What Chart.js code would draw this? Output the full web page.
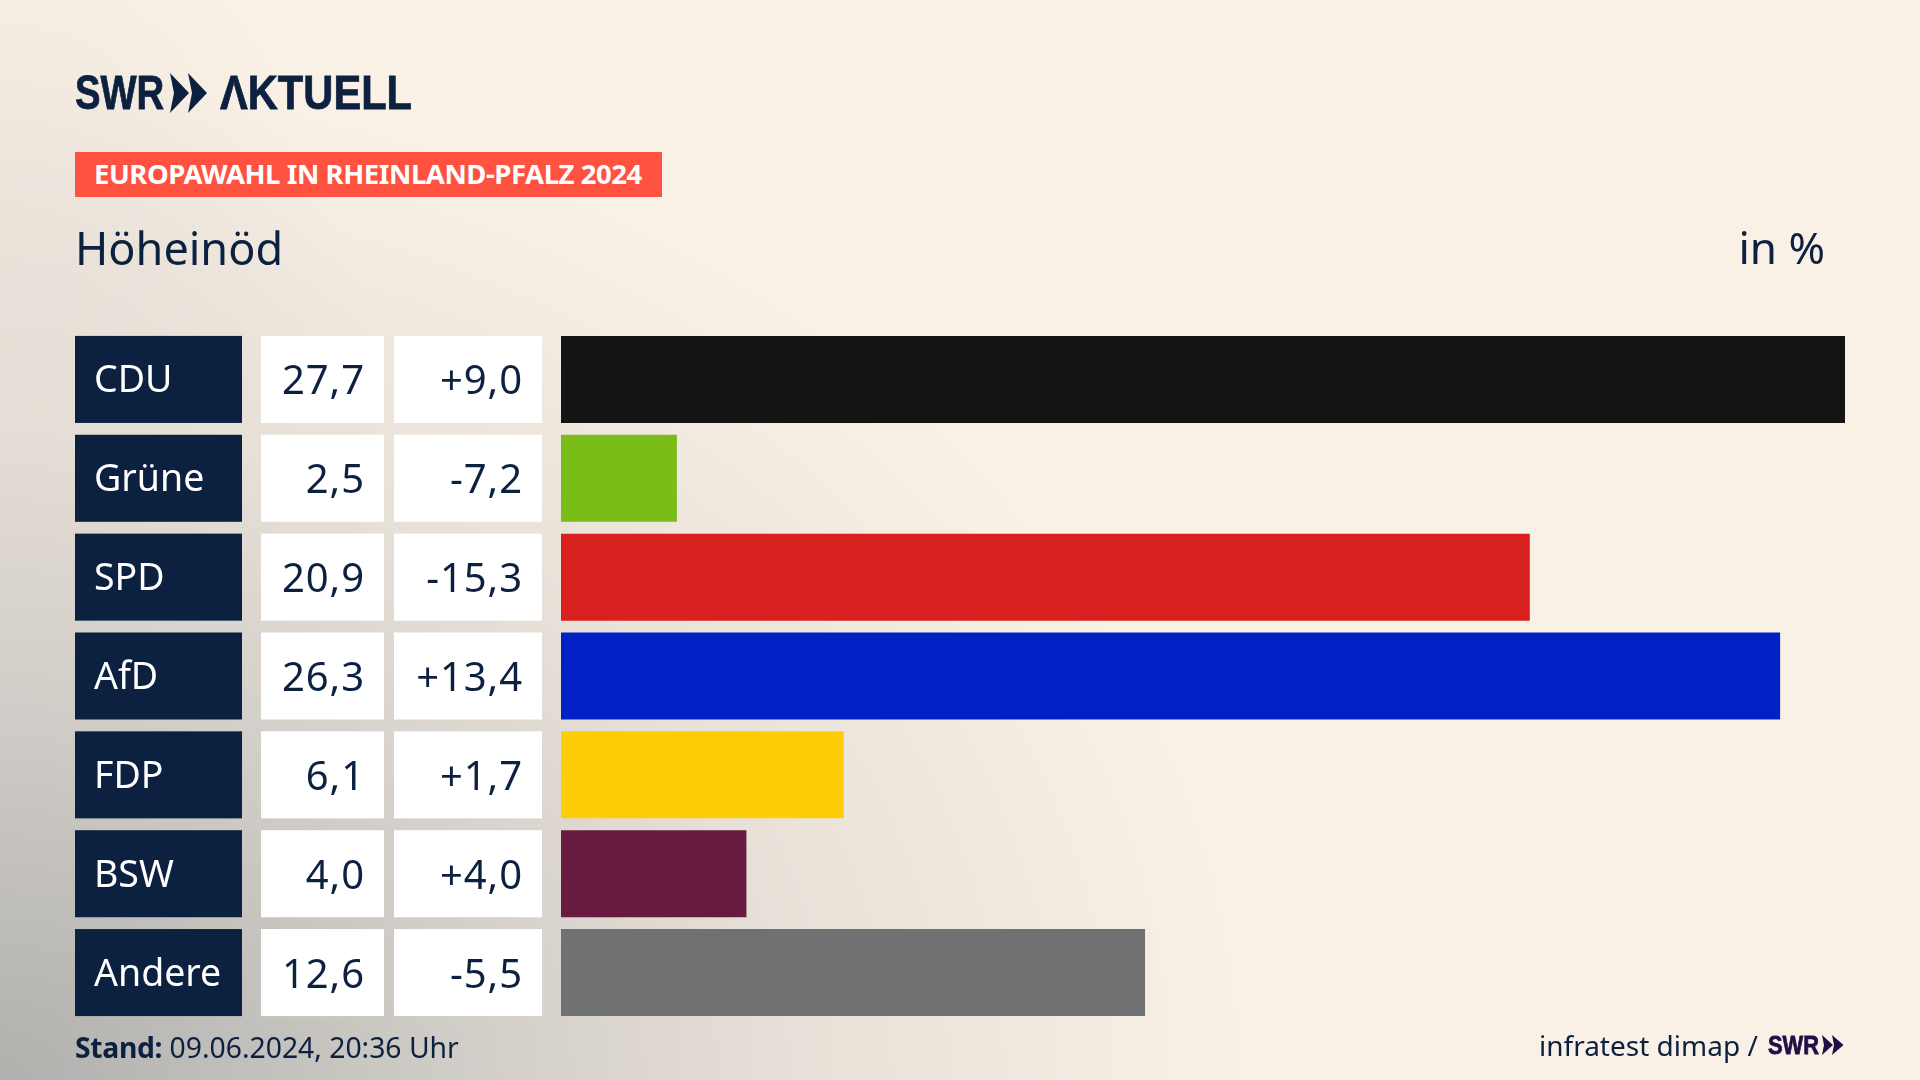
<!DOCTYPE html>
<html lang="de">
<head>
<meta charset="utf-8">
<title>Europawahl in Rheinland-Pfalz 2024 - Höheinöd</title>
<script src="https://cdn.jsdelivr.net/npm/chart.js@4"></script>
<style>
    html, body { margin: 0; width: 1920px; height: 1080px; overflow: hidden; }
    body {
        position: relative;
        font-family: "Noto Sans", sans-serif;
        color: #0c2040;
        background:
            radial-gradient(ellipse 1250px 1000px at 0 100%, #b0b0ae 0, #cfcbc6 35%, rgba(228,221,213,.8) 65%, rgba(250,241,230,0) 100%),
            radial-gradient(ellipse 380px 620px at 0 45%, #e4ded6 0, rgba(250,241,230,0) 100%);
        background-color: #faf1e6;
    }
    .abs { position: absolute; white-space: nowrap; line-height: 1; }
    .narrow { font-family: "Liberation Sans", sans-serif; font-weight: 700; transform-origin: 0 50%; -webkit-text-stroke: .8px currentColor; }
    canvas { position: absolute; left: 0; top: 0; }
    #logo { left: 75px; top: 68px; font-size: 49px; transform: scaleX(.78); }
    #logo2 { left: 220px; top: 68px; font-size: 49px; transform: scaleX(.85); }
    #badge { left: 75px; top: 152px; width: 587px; height: 45px; background: #ff5240; }
    #badgeText { left: 94px; top: 160px; font-size: 27.5px; font-weight: 700; color: #fff; letter-spacing: -.45px; }
    #place { left: 75px; top: 225px; font-size: 45px; }
    #unit { right: 95px; top: 225px; font-size: 44px; }
    #stand { left: 75px; top: 1033px; font-size: 28.3px; }
    #stand b { letter-spacing: -.3px; }
    #source { left: 1539px; top: 1031px; font-size: 28px; }
    #swrSmall { left: 1768px; top: 1032px; font-size: 26px; color: #1f0f47; transform: scaleX(.84); }
    svg { position: absolute; }
</style>
</head>
<body>
<canvas id="chart" width="1920" height="1080"></canvas>

<div class="abs narrow" id="logo">SWR</div>
<svg style="left:170px;top:73px" width="38" height="40" viewBox="0 0 38 40">
    <path fill="#0c2040" d="M0 0 L19 20 L0 40 L4 20 Z M18 0 L37 20 L18 40 L22 20 Z"/>
</svg>
<div class="abs narrow" id="logo2">ΛKTUELL</div>
<div class="abs" id="badge"></div>
<div class="abs" id="badgeText">EUROPAWAHL IN RHEINLAND-PFALZ 2024</div>
<div class="abs" id="place">Höheinöd</div>
<div class="abs" id="unit">in %</div>
<div class="abs" id="stand"><b>Stand:</b> 09.06.2024, 20:36 Uhr</div>
<div class="abs" id="source">infratest dimap /</div>
<div class="abs narrow" id="swrSmall">SWR</div>
<svg style="left:1822px;top:1035px" width="22" height="20" viewBox="0 0 22 20">
    <path fill="#1f0f47" d="M0 0 L11 10 L0 20 L2 10 Z M10 0 L21.5 10 L10 20 L12 10 Z"/>
</svg>

<script>
// values
const parties = ['CDU', 'Grüne', 'SPD', 'AfD', 'FDP', 'BSW', 'Andere'];
const results = [27.7, 2.5, 20.9, 26.3, 6.1, 4.0, 12.6];
const changes = [9.0, -7.2, -15.3, 13.4, 1.7, 4.0, -5.5];
const barColors = ['#141414', '#7abd18', '#d8201f', '#0022c4', '#ffcc08', '#671b3f', '#707173'];

const NAVY = '#0c2040';
const BAR_SHARE = 87 / 98.83;

const fmtResult = v => v.toFixed(1).replace('.', ',');
const fmtChange = v => (v > 0 ? '+' : '') + v.toFixed(1).replace('.', ',');

// name boxes and the two number columns left of the bars
const tablePlugin = {
    id: 'resultTable',
    beforeDraw(chart) {
        const { ctx, scales: { y } } = chart;
        const h = (y.getPixelForValue(1) - y.getPixelForValue(0)) * BAR_SHARE;
        ctx.save();
        parties.forEach((name, i) => {
            const top = y.getPixelForValue(i) - h / 2;
            ctx.fillStyle = NAVY;
            ctx.fillRect(75, top, 167, h);
            ctx.fillStyle = '#fff';
            ctx.fillRect(261, top, 123, h);
            ctx.fillRect(394, top, 148, h);
        });
        ctx.restore();
    },
    afterDraw(chart) {
        const { ctx, scales: { y } } = chart;
        ctx.save();
        ctx.textBaseline = 'alphabetic';
        parties.forEach((name, i) => {
            const mid = y.getPixelForValue(i);
            ctx.font = '37.5px "Noto Sans"';
            ctx.fillStyle = '#fff';
            ctx.textAlign = 'left';
            ctx.letterSpacing = '0px';
            ctx.fillText(name, 94, mid + 13);
            ctx.font = '40px "Noto Sans"';
            ctx.fillStyle = NAVY;
            ctx.textAlign = 'right';
            ctx.letterSpacing = '0.9px';
            ctx.fillText(fmtResult(results[i]), 365, mid + 15);
            ctx.fillText(fmtChange(changes[i]), 523, mid + 15);
        });
        ctx.restore();
    }
};

new Chart(document.getElementById('chart'), {
    type: 'bar',
    data: {
        labels: parties,
        datasets: [{
            data: results,
            backgroundColor: barColors,
            borderWidth: 0,
            barPercentage: BAR_SHARE,
            categoryPercentage: 1
        }]
    },
    options: {
        indexAxis: 'y',
        responsive: false,
        animation: false,
        devicePixelRatio: 1,
        layout: { padding: { left: 561, right: 75, top: 330, bottom: 58 } },
        plugins: { legend: { display: false }, tooltip: { enabled: false } },
        scales: {
            x: { display: false, min: 0, max: 27.7 },
            y: { display: false }
        }
    },
    plugins: [tablePlugin]
});
</script>
</body>
</html>
